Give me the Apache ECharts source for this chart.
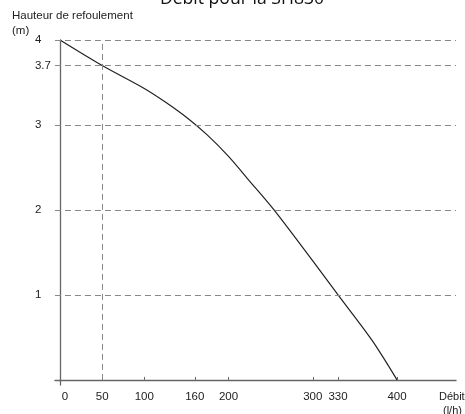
<!DOCTYPE html>
<html>
<head>
<meta charset="utf-8">
<script src="https://cdn.jsdelivr.net/npm/echarts@6/dist/echarts.min.js"></script>
<style>html,body{margin:0;padding:0;background:#fff}#c{width:465px;height:414px}</style>
</head>
<body>
<div id="c"></div>
<script>
const flowValues = [0, 50, 100, 125, 150, 175, 200, 225, 254, 300, 330, 370, 400];
const headValues = [4, 3.7, 3.43, 3.27, 3.09, 2.88, 2.63, 2.34, 2.0, 1.40, 1.0, 0.47, 0];
const xTickLabels = [0, 50, 100, 160, 200, 300, 330, 400];
const yTickLabels = [1, 2, 3, 3.7, 4];
const hGridValues = [1, 2, 3, 3.7, 4];
const vGridValue = 50;

const curve = flowValues.map((x, i) => [x, headValues[i]]);
const font = 'Liberation Sans, Arial, sans-serif';

const chart = echarts.init(document.getElementById('c'));
chart.setOption({
  animation: false,
  title: [
    { text: 'Débit pour la SH830', left: 242, top: -10, textAlign: 'center', padding: 0,
      textStyle: { fontFamily: 'Open Sans, sans-serif', fontSize: 17.6, fontWeight: 'normal', color: '#111' } },
    { text: 'Hauteur de refoulement\n(m)', left: 12, top: 8, padding: 0,
      textStyle: { fontFamily: font, fontSize: 11.5, fontWeight: 'normal', color: '#222', lineHeight: 15 } },
    { text: 'Débit', left: 439, top: 391, padding: 0,
      textStyle: { fontFamily: font, fontSize: 11, fontWeight: 'normal', color: '#222' } },
    { text: '(l/h)', left: 443, top: 405, padding: 0,
      textStyle: { fontFamily: font, fontSize: 11, fontWeight: 'normal', color: '#222' } }
  ],
  grid: { left: 54.95, right: 9, top: 40, bottom: 29, containLabel: false },
  xAxis: {
    type: 'value', min: -6, max: 470,
    axisLine: { onZero: true, lineStyle: { color: '#666', width: 1.3 } },
    axisTick: { show: true, inside: true, length: 3, customValues: xTickLabels, lineStyle: { color: '#666' } },
    axisLabel: {
      customValues: xTickLabels, margin: 6, color: '#222', fontFamily: font, fontSize: 11.5,
      formatter: v => v === 0 ? '{z|0}' : String(v),
      rich: { z: { padding: [0, 0, 0, 10], fontFamily: font, fontSize: 11.5, color: '#222' } }
    },
    splitLine: { show: false }
  },
  yAxis: {
    type: 'value', min: -0.06, max: 4,
    axisLine: { show: true, onZero: true, lineStyle: { color: '#666', width: 1.3 } },
    axisTick: { show: true, length: 3, customValues: yTickLabels, lineStyle: { color: '#666' } },
    axisLabel: { customValues: yTickLabels, margin: 20, align: 'left', color: '#222', fontFamily: font, fontSize: 11.5 },
    splitLine: { show: false }
  },
  series: [{
    type: 'line',
    data: curve,
    smooth: 0.3,
    symbol: 'none',
    lineStyle: { color: '#222', width: 1.2 },
    markLine: {
      silent: true,
      symbol: 'none',
      label: { show: false },
      lineStyle: { type: [6, 4], color: '#888', width: 1 },
      data: hGridValues.map(v => ({ yAxis: v })).concat([
        [{ coord: [vGridValue, 0] }, { coord: [vGridValue, 4] }]
      ])
    },
    z: 3
  }]
});
</script>
</body>
</html>
